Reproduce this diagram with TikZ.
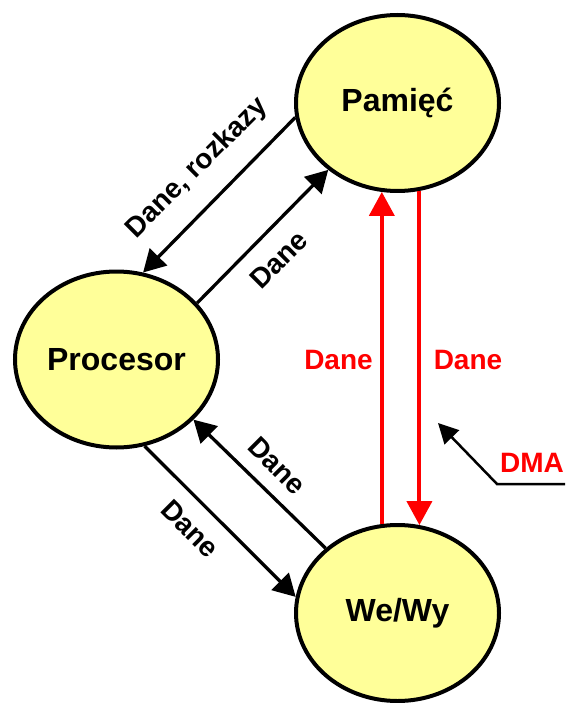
\documentclass[tikz,border=0pt]{standalone}
\usepackage{fontspec}
\setmainfont{Liberation Sans}
\usetikzlibrary{shapes.geometric,arrows.meta}
\definecolor{cyellow}{HTML}{FFFF99}
\begin{document}
\begin{tikzpicture}[x=1pt,y=-1pt,
  unit/.style={ellipse, draw=black, line width=4pt, fill=cyellow,
    minimum width=203pt, minimum height=176pt, inner sep=0pt,
    font=\fontsize{32}{38}\selectfont\bfseries},
  flow/.style={line width=3.3pt, -{Triangle[length=22pt,width=24pt]}},
  dmaflow/.style={draw=red, line width=4pt, -{Triangle[length=24pt,width=25pt]}},
  lbl/.style={font=\fontsize{28}{33}\selectfont\bfseries, inner sep=0pt},
  rlbl/.style={font=\fontsize{28}{33}\selectfont\bfseries, text=red, inner sep=0pt}]
\useasboundingbox (0,0) rectangle (565,703);
\node[unit] (pam) at (397.5,103) {Pamięć};
\node[unit] (cpu) at (116.5,359.5) {Procesor};
\node[unit] (io) at (397.5,613) {We/Wy};
% black connectors
\draw[flow] (pam.188.9) -- (cpu.73.5);
\draw[flow] (cpu.35.5) -- (pam.224.8);
\draw[flow] (io.138.8) -- (cpu.-38.3);
\draw[flow] (cpu.-72.3) -- (io.171);
% red connectors
\draw[dmaflow] (io.100.1) -- (pam.260.1);
\draw[dmaflow] (pam.-76) -- (io.76);
% labels
\node[lbl, rotate=45] (l1) at (197,168) {Dane, rozkazy};
\node[lbl, rotate=45] (l2) at (279,260) {Dane};
\node[lbl, rotate=-45] (l3) at (277,466) {Dane};
\node[lbl, rotate=-45] (l4) at (190,529) {Dane};
\node[rlbl] (r1) at (338.5,360) {Dane};
\node[rlbl] (r2) at (468,360) {Dane};
% DMA
\node[rlbl] (dma) at (532,463) {DMA};
\coordinate (dmaend) at (565,484);
\coordinate (dmaknee) at (497,484);
\coordinate (dmatip) at (438,423);
\draw[line width=2.5pt, -{Triangle[length=20pt,width=20pt]}] (dmaend) -- (dmaknee) -- (dmatip);
\end{tikzpicture}
\end{document}
